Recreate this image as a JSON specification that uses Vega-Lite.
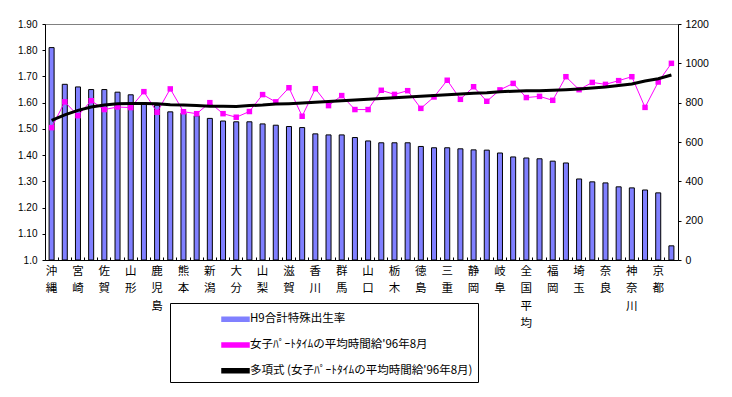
{
  "$schema": "https://vega.github.io/schema/vega-lite/v6.json",
  "width": 633,
  "height": 236,
  "autosize": {"type": "none"},
  "padding": {"left": 45, "top": 24, "right": 54, "bottom": 137},
  "background": "white",
  "config": {
    "view": {"stroke": "#808080", "strokeWidth": 1},
    "axis": {"domainColor": "black", "tickColor": "black", "labelColor": "black", "grid": false, "labelFont": "Liberation Sans", "labelFontSize": 10, "title": null}
  },
  "data": {"values": [
    {"pref": "沖縄", "tfr": 1.81, "wage": 673, "trend": 710},
    {"pref": "福島", "tfr": 1.67, "wage": 804, "trend": 738},
    {"pref": "宮崎", "tfr": 1.66, "wage": 734, "trend": 761},
    {"pref": "島根", "tfr": 1.65, "wage": 810, "trend": 778},
    {"pref": "佐賀", "tfr": 1.65, "wage": 765, "trend": 788},
    {"pref": "鳥取", "tfr": 1.64, "wage": 778, "trend": 795},
    {"pref": "山形", "tfr": 1.63, "wage": 775, "trend": 796},
    {"pref": "長野", "tfr": 1.60, "wage": 856, "trend": 796},
    {"pref": "鹿児島", "tfr": 1.59, "wage": 751, "trend": 794},
    {"pref": "福井", "tfr": 1.565, "wage": 870, "trend": 790},
    {"pref": "熊本", "tfr": 1.56, "wage": 754, "trend": 788},
    {"pref": "長崎", "tfr": 1.55, "wage": 744, "trend": 785},
    {"pref": "新潟", "tfr": 1.54, "wage": 800, "trend": 782},
    {"pref": "岩手", "tfr": 1.53, "wage": 744, "trend": 782},
    {"pref": "大分", "tfr": 1.527, "wage": 726, "trend": 781},
    {"pref": "青森", "tfr": 1.527, "wage": 755, "trend": 785},
    {"pref": "山梨", "tfr": 1.519, "wage": 841, "trend": 788},
    {"pref": "富山", "tfr": 1.514, "wage": 804, "trend": 793},
    {"pref": "滋賀", "tfr": 1.509, "wage": 876, "trend": 795},
    {"pref": "石川", "tfr": 1.505, "wage": 731, "trend": 798},
    {"pref": "香川", "tfr": 1.481, "wage": 871, "trend": 802},
    {"pref": "愛媛", "tfr": 1.477, "wage": 785, "trend": 806},
    {"pref": "群馬", "tfr": 1.477, "wage": 836, "trend": 810},
    {"pref": "秋田", "tfr": 1.467, "wage": 765, "trend": 813},
    {"pref": "山口", "tfr": 1.454, "wage": 765, "trend": 817},
    {"pref": "茨城", "tfr": 1.447, "wage": 863, "trend": 821},
    {"pref": "栃木", "tfr": 1.447, "wage": 842, "trend": 825},
    {"pref": "岡山", "tfr": 1.447, "wage": 861, "trend": 829},
    {"pref": "徳島", "tfr": 1.433, "wage": 771, "trend": 833},
    {"pref": "広島", "tfr": 1.428, "wage": 829, "trend": 836},
    {"pref": "三重", "tfr": 1.428, "wage": 914, "trend": 840},
    {"pref": "高知", "tfr": 1.424, "wage": 817, "trend": 844},
    {"pref": "静岡", "tfr": 1.42, "wage": 881, "trend": 848},
    {"pref": "和歌山", "tfr": 1.419, "wage": 807, "trend": 851},
    {"pref": "岐阜", "tfr": 1.408, "wage": 865, "trend": 856},
    {"pref": "愛知", "tfr": 1.393, "wage": 898, "trend": 858},
    {"pref": "全国平均", "tfr": 1.389, "wage": 826, "trend": 860},
    {"pref": "兵庫", "tfr": 1.386, "wage": 832, "trend": 861},
    {"pref": "福岡", "tfr": 1.377, "wage": 812, "trend": 863},
    {"pref": "宮城", "tfr": 1.37, "wage": 932, "trend": 866},
    {"pref": "埼玉", "tfr": 1.309, "wage": 866, "trend": 870},
    {"pref": "千葉", "tfr": 1.298, "wage": 903, "trend": 875},
    {"pref": "奈良", "tfr": 1.294, "wage": 893, "trend": 880},
    {"pref": "大阪", "tfr": 1.279, "wage": 912, "trend": 887},
    {"pref": "神奈川", "tfr": 1.275, "wage": 932, "trend": 895},
    {"pref": "北海道", "tfr": 1.267, "wage": 776, "trend": 910},
    {"pref": "京都", "tfr": 1.256, "wage": 905, "trend": 922},
    {"pref": "東京", "tfr": 1.054, "wage": 1000, "trend": 941}
  ]},
  "layer": [
    {
      "mark": {"type": "bar", "stroke": "black", "strokeWidth": 1, "width": {"band": 0.38}},
      "encoding": {
        "x": {
          "field": "pref", "type": "nominal", "sort": null,
          "scale": {"paddingInner": 0, "paddingOuter": 0},
          "axis": {
            "bandPosition": 0, "labelAngle": 0,
            "labelExpr": "round(datum.index*47) % 2 == 0 ? split(datum.value, '') : ''",
            "labelFont": "Noto Sans CJK JP", "labelFontSize": 11.5, "labelLineHeight": 17.6,
            "labelAlign": "center", "labelBaseline": "top", "labelOverlap": false,
            "tickSize": -3, "labelPadding": 8, "domainColor": "black"
          }
        },
        "y": {
          "field": "tfr", "type": "quantitative",
          "scale": {"domain": [1, 1.9], "zero": false, "nice": false},
          "axis": {"values": [1, 1.1, 1.2, 1.3, 1.4, 1.5, 1.6, 1.7, 1.8, 1.9], "labelExpr": "datum.value == 1 ? '1.0' : format(datum.value, '.2f')", "tickSize": 3, "labelPadding": 5, "labelOverlap": false}
        },
        "y2": {"datum": 1},
        "color": {
          "datum": "H9合計特殊出生率",
          "scale": {"domain": ["H9合計特殊出生率", "女子ﾊﾟｰﾄﾀｲﾑの平均時間給'96年8月", "多項式 (女子ﾊﾟｰﾄﾀｲﾑの平均時間給'96年8月)"], "range": ["#8080ff", "#ff00ff", "#000000"]},
          "legend": {
            "orient": "none", "legendX": 125, "legendY": 279, "title": null,
            "padding": 5.3, "strokeColor": "black", "fillColor": "white",
            "symbolType": "M-1.35,-0.2H1.35V0.2H-1.35Z",
            "symbolSize": 400, "symbolOffset": 49.2, "labelOffset": 3.5, "rowPadding": 8.7,
            "labelFont": "Noto Sans CJK JP", "labelFontSize": 11.5, "labelColor": "black", "labelLimit": 500,
            "labelExpr": "datum.label + '\u3000\u3000\u3000\u3000'"
          }
        }
      }
    },
    {
      "layer": [
        {
          "mark": {"type": "line", "strokeWidth": 1, "point": {"shape": "square", "size": 30, "filled": true}},
          "encoding": {
            "x": {"field": "pref", "type": "nominal", "sort": null},
            "y": {
              "field": "wage", "type": "quantitative",
              "scale": {"domain": [0, 1200], "nice": false},
              "axis": {"orient": "right", "values": [0, 200, 400, 600, 800, 1000, 1200], "format": "d", "tickSize": 3, "labelPadding": 4, "labelFontSize": 10.5, "labelOverlap": false}
            },
            "color": {"datum": "女子ﾊﾟｰﾄﾀｲﾑの平均時間給'96年8月", "legend": null}
          }
        },
        {
          "mark": {"type": "line", "strokeWidth": 3},
          "encoding": {
            "x": {"field": "pref", "type": "nominal", "sort": null},
            "y": {
              "field": "trend", "type": "quantitative",
              "axis": {"orient": "right", "values": [0, 200, 400, 600, 800, 1000, 1200], "format": "d", "tickSize": 3, "labelPadding": 4, "labelFontSize": 10.5, "labelOverlap": false}
            },
            "color": {"datum": "多項式 (女子ﾊﾟｰﾄﾀｲﾑの平均時間給'96年8月)", "legend": null}
          }
        }
      ]
    }
  ],
  "resolve": {"scale": {"y": "independent"}}
}
